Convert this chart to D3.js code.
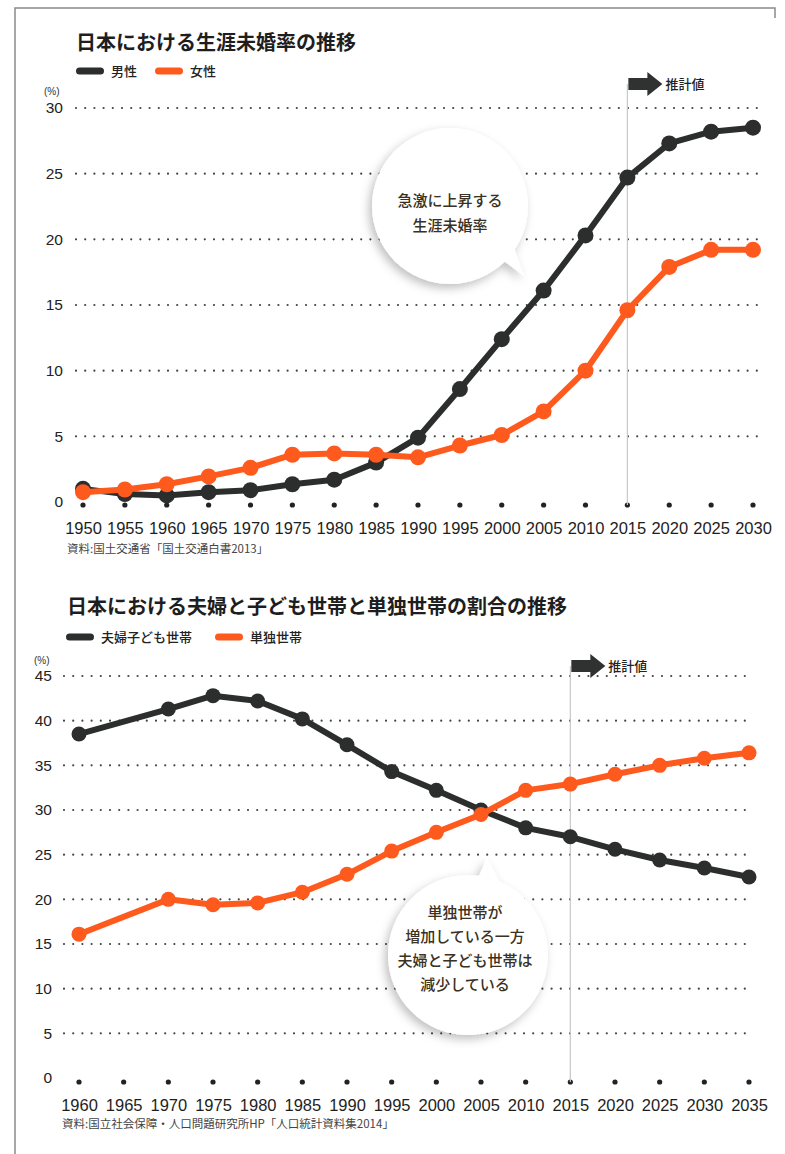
<!DOCTYPE html>
<html>
<head>
<meta charset="utf-8">
<script src="https://cdn.jsdelivr.net/npm/d3@7"></script>
<style>
  body { margin: 0; background: #fff; }
  svg { display: block; }
  .jp { font-family: "Noto Sans CJK JP", sans-serif; }
  .num { font-family: "Liberation Sans", Arial, sans-serif; }
  .year { font-family: "Liberation Sans Narrow", "Liberation Sans", sans-serif; }
</style>
</head>
<body>
<script>
"use strict"

// chart 1: lifetime unmarried rate
const years1 = [1950, 1955, 1960, 1965, 1970, 1975, 1980, 1985, 1990, 1995, 2000, 2005, 2010, 2015, 2020, 2025, 2030];
const male = [1.0, 0.6, 0.5, 0.75, 0.9, 1.35, 1.7, 3.0, 4.9, 8.6, 12.4, 16.1, 20.3, 24.7, 27.3, 28.2, 28.5];
const female = [0.75, 0.95, 1.35, 1.95, 2.6, 3.6, 3.7, 3.6, 3.4, 4.3, 5.1, 6.9, 10.0, 14.6, 17.9, 19.2, 19.2];
const yTicks1 = [0, 5, 10, 15, 20, 25, 30];

// chart 2: couple+children vs single households (no 1965 value)
const years2 = [1960, 1965, 1970, 1975, 1980, 1985, 1990, 1995, 2000, 2005, 2010, 2015, 2020, 2025, 2030, 2035];
const coupleKids = [38.5, null, 41.3, 42.8, 42.2, 40.2, 37.3, 34.3, 32.2, 30.0, 28.0, 27.0, 25.6, 24.4, 23.5, 22.5];
const single = [16.1, null, 20.0, 19.4, 19.6, 20.8, 22.8, 25.4, 27.5, 29.5, 32.2, 32.9, 34.0, 35.0, 35.8, 36.4];
const yTicks2 = [0, 5, 10, 15, 20, 25, 30, 35, 40, 45];

const DARK = "#2b2e2d", ORANGE = "#ff5a1e";

const svg = d3.select("body").append("svg")
    .attr("width", 785)
    .attr("height", 1154);

// soft shadow for the speech bubbles
const defs = svg.append("defs");
defs.append("filter").attr("id", "shadow")
    .attr("x", "-30%").attr("y", "-30%").attr("width", "160%").attr("height", "160%")
  .append("feDropShadow")
    .attr("dx", -3).attr("dy", 4)
    .attr("stdDeviation", 5)
    .attr("flood-color", "#000")
    .attr("flood-opacity", 0.25);

// page frame (left and top edges)
svg.append("path")
    .attr("d", "M15,1154 L15,8 L775,8 L775,18")
    .attr("fill", "none")
    .attr("stroke", "#8a8a8a")
    .attr("stroke-width", 1.5);

function drawChart(cfg) {
  const g = svg.append("g");
  const x = d3.scaleLinear().domain(cfg.xDomain).range(cfg.xRange);
  const y = d3.scaleLinear().domain(cfg.yDomain).range(cfg.yRange);

  // title
  g.append("text")
      .attr("class", "jp")
      .attr("x", cfg.titleX).attr("y", cfg.titleY)
      .attr("font-size", 20).attr("font-weight", 700)
      .attr("fill", "#1e1e1e")
      .text(cfg.title);

  // legend
  const legend = g.selectAll(".legend-item")
    .data(cfg.series)
    .enter().append("g")
      .attr("class", "legend-item")
      .attr("transform", function(d, i) { return "translate(" + cfg.legendX[i] + "," + cfg.legendY + ")"; });
  legend.append("rect")
      .attr("x", 0).attr("y", -3.5)
      .attr("width", 28).attr("height", 7)
      .attr("rx", 3.5)
      .attr("fill", function(d) { return d.color; });
  legend.append("text")
      .attr("class", "jp")
      .attr("x", 35).attr("y", 0)
      .attr("dy", "0.36em")
      .attr("font-size", 13).attr("font-weight", 500)
      .attr("fill", "#222")
      .text(function(d) { return d.name; });

  // (%) unit
  g.append("text")
      .attr("class", "num")
      .attr("x", cfg.unitX).attr("y", cfg.unitY)
      .attr("font-size", 10).attr("fill", "#333")
      .text("(%)");

  // dotted gridlines
  g.selectAll(".grid")
    .data(cfg.yTicks.filter(function(t) { return t > 0; }))
    .enter().append("line")
      .attr("class", "grid")
      .attr("x1", cfg.gridX[0]).attr("x2", cfg.gridX[1])
      .attr("y1", function(d) { return y(d); })
      .attr("y2", function(d) { return y(d); })
      .attr("stroke", "#444")
      .attr("stroke-width", 2.2)
      .attr("stroke-linecap", "round")
      .attr("stroke-dasharray", "0,9.2");

  // y axis labels through d3 axis
  const yAxis = g.append("g")
      .attr("class", "num")
      .attr("transform", "translate(" + cfg.yLabelX + ",0)")
      .call(d3.axisLeft(y).tickValues(cfg.yTicks).tickSize(0).tickPadding(0).tickFormat(d3.format("d")));
  yAxis.select(".domain").remove();
  yAxis.selectAll("text")
      .attr("font-size", 15.5)
      .attr("font-family", "Liberation Sans, Arial, sans-serif")
      .attr("fill", "#222");

  // x axis labels
  const xAxis = g.append("g")
      .attr("class", "year")
      .attr("transform", "translate(0," + cfg.xLabelY + ")")
      .call(d3.axisBottom(x).tickValues(cfg.years).tickSize(0).tickPadding(0).tickFormat(d3.format("d")));
  xAxis.select(".domain").remove();
  xAxis.selectAll("text")
      .attr("font-size", 16.5)
      .attr("font-family", "Liberation Sans Narrow, Liberation Sans, sans-serif")
      .attr("fill", "#1e1e1e");

  // baseline tick dots
  g.selectAll(".tickdot")
    .data(cfg.years)
    .enter().append("circle")
      .attr("class", "tickdot")
      .attr("cx", function(d) { return x(d); })
      .attr("cy", cfg.dotY)
      .attr("r", 2.6)
      .attr("fill", "#222");

  // projection marker
  const px = x(cfg.projYear);
  g.append("line")
      .attr("x1", px).attr("x2", px)
      .attr("y1", cfg.projTop + 8).attr("y2", cfg.dotY)
      .attr("stroke", "#c8c8c8").attr("stroke-width", 1.2);
  g.append("path")
      .attr("d", "M" + (px + 1) + "," + (cfg.projTop + 2) + " h19 v-6 l15,12 l-15,12 v-6 h-19 z")
      .attr("fill", "#2f3231");
  g.append("text")
      .attr("class", "jp")
      .attr("x", px + 38).attr("y", cfg.projTop + 8)
      .attr("dy", "0.36em")
      .attr("font-size", 13).attr("font-weight", 500)
      .attr("fill", "#222")
      .text("推計値");

  // speech bubble
  const b = cfg.bubble;
  const bg = g.append("g").attr("filter", "url(#shadow)");
  bg.append("circle")
      .attr("cx", b.cx).attr("cy", b.cy).attr("r", b.r)
      .attr("fill", "#fff");
  bg.append("path")
      .attr("d", b.tail)
      .attr("fill", "#fff");
  g.append("text")
      .attr("class", "jp")
      .attr("text-anchor", "middle")
      .attr("font-size", 15).attr("font-weight", 500)
      .attr("fill", "#3a3122")
    .selectAll("tspan")
    .data(b.lines)
    .enter().append("tspan")
      .attr("x", b.tx)
      .attr("y", function(d, i) { return b.ty + i * b.lh; })
      .text(function(d) { return d; });

  // series lines and dots
  const line = d3.line()
      .x(function(d) { return x(d.year); })
      .y(function(d) { return y(d.value); });
  cfg.series.forEach(function(s) {
    const pts = cfg.years.map(function(yr, i) { return {year: yr, value: s.values[i]}; })
        .filter(function(d) { return d.value != null; });
    g.append("path")
        .attr("d", line(pts))
        .attr("fill", "none")
        .attr("stroke", s.color)
        .attr("stroke-width", 6)
        .attr("stroke-linejoin", "round");
    g.selectAll(null)
      .data(pts)
      .enter().append("circle")
        .attr("cx", function(d) { return x(d.year); })
        .attr("cy", function(d) { return y(d.value); })
        .attr("r", cfg.dotR)
        .attr("fill", s.color);
  });

  // source note
  g.append("text")
      .attr("class", "jp")
      .attr("x", cfg.sourceX).attr("y", cfg.sourceY)
      .attr("font-size", 11.5)
      .attr("fill", "#444")
      .text(cfg.source);
}

drawChart({
  title: "日本における生涯未婚率の推移",
  titleX: 76, titleY: 50,
  legendX: [76, 155], legendY: 71,
  unitX: 44, unitY: 95,
  series: [{name: "男性", color: DARK, values: male},
           {name: "女性", color: ORANGE, values: female}],
  years: years1,
  xDomain: [1950, 2030], xRange: [83, 753],
  yDomain: [0, 30], yRange: [502, 108],
  yTicks: yTicks1,
  gridX: [76, 757],
  yLabelX: 63,
  xLabelY: 522,
  dotY: 505,
  dotR: 8,
  projYear: 2015, projTop: 76,
  bubble: {cx: 450, cy: 206, r: 78,
           tail: "M500,258 L524,276 L512,242 Z",
           tx: 450, ty: 206, lh: 25,
           lines: ["急激に上昇する", "生涯未婚率"]},
  source: "資料:国土交通省「国土交通白書2013」",
  sourceX: 67, sourceY: 553
});

drawChart({
  title: "日本における夫婦と子ども世帯と単独世帯の割合の推移",
  titleX: 67, titleY: 614,
  legendX: [66, 215], legendY: 637,
  unitX: 34, unitY: 664,
  series: [{name: "夫婦子ども世帯", color: DARK, values: coupleKids},
           {name: "単独世帯", color: ORANGE, values: single}],
  years: years2,
  xDomain: [1960, 2035], xRange: [79, 749],
  yDomain: [0, 45], yRange: [1078, 676],
  yTicks: yTicks2,
  gridX: [64, 751],
  yLabelX: 52,
  xLabelY: 1099,
  dotY: 1082,
  dotR: 7.5,
  projYear: 2015, projTop: 658,
  bubble: {cx: 468, cy: 955, r: 80,
           tail: "M478,878 L487,858 L500,882 Z",
           tx: 465, ty: 918, lh: 24,
           lines: ["単独世帯が", "増加している一方", "夫婦と子ども世帯は", "減少している"]},
  source: "資料:国立社会保障・人口問題研究所HP「人口統計資料集2014」",
  sourceX: 62, sourceY: 1128
});
</script>
</body>
</html>
